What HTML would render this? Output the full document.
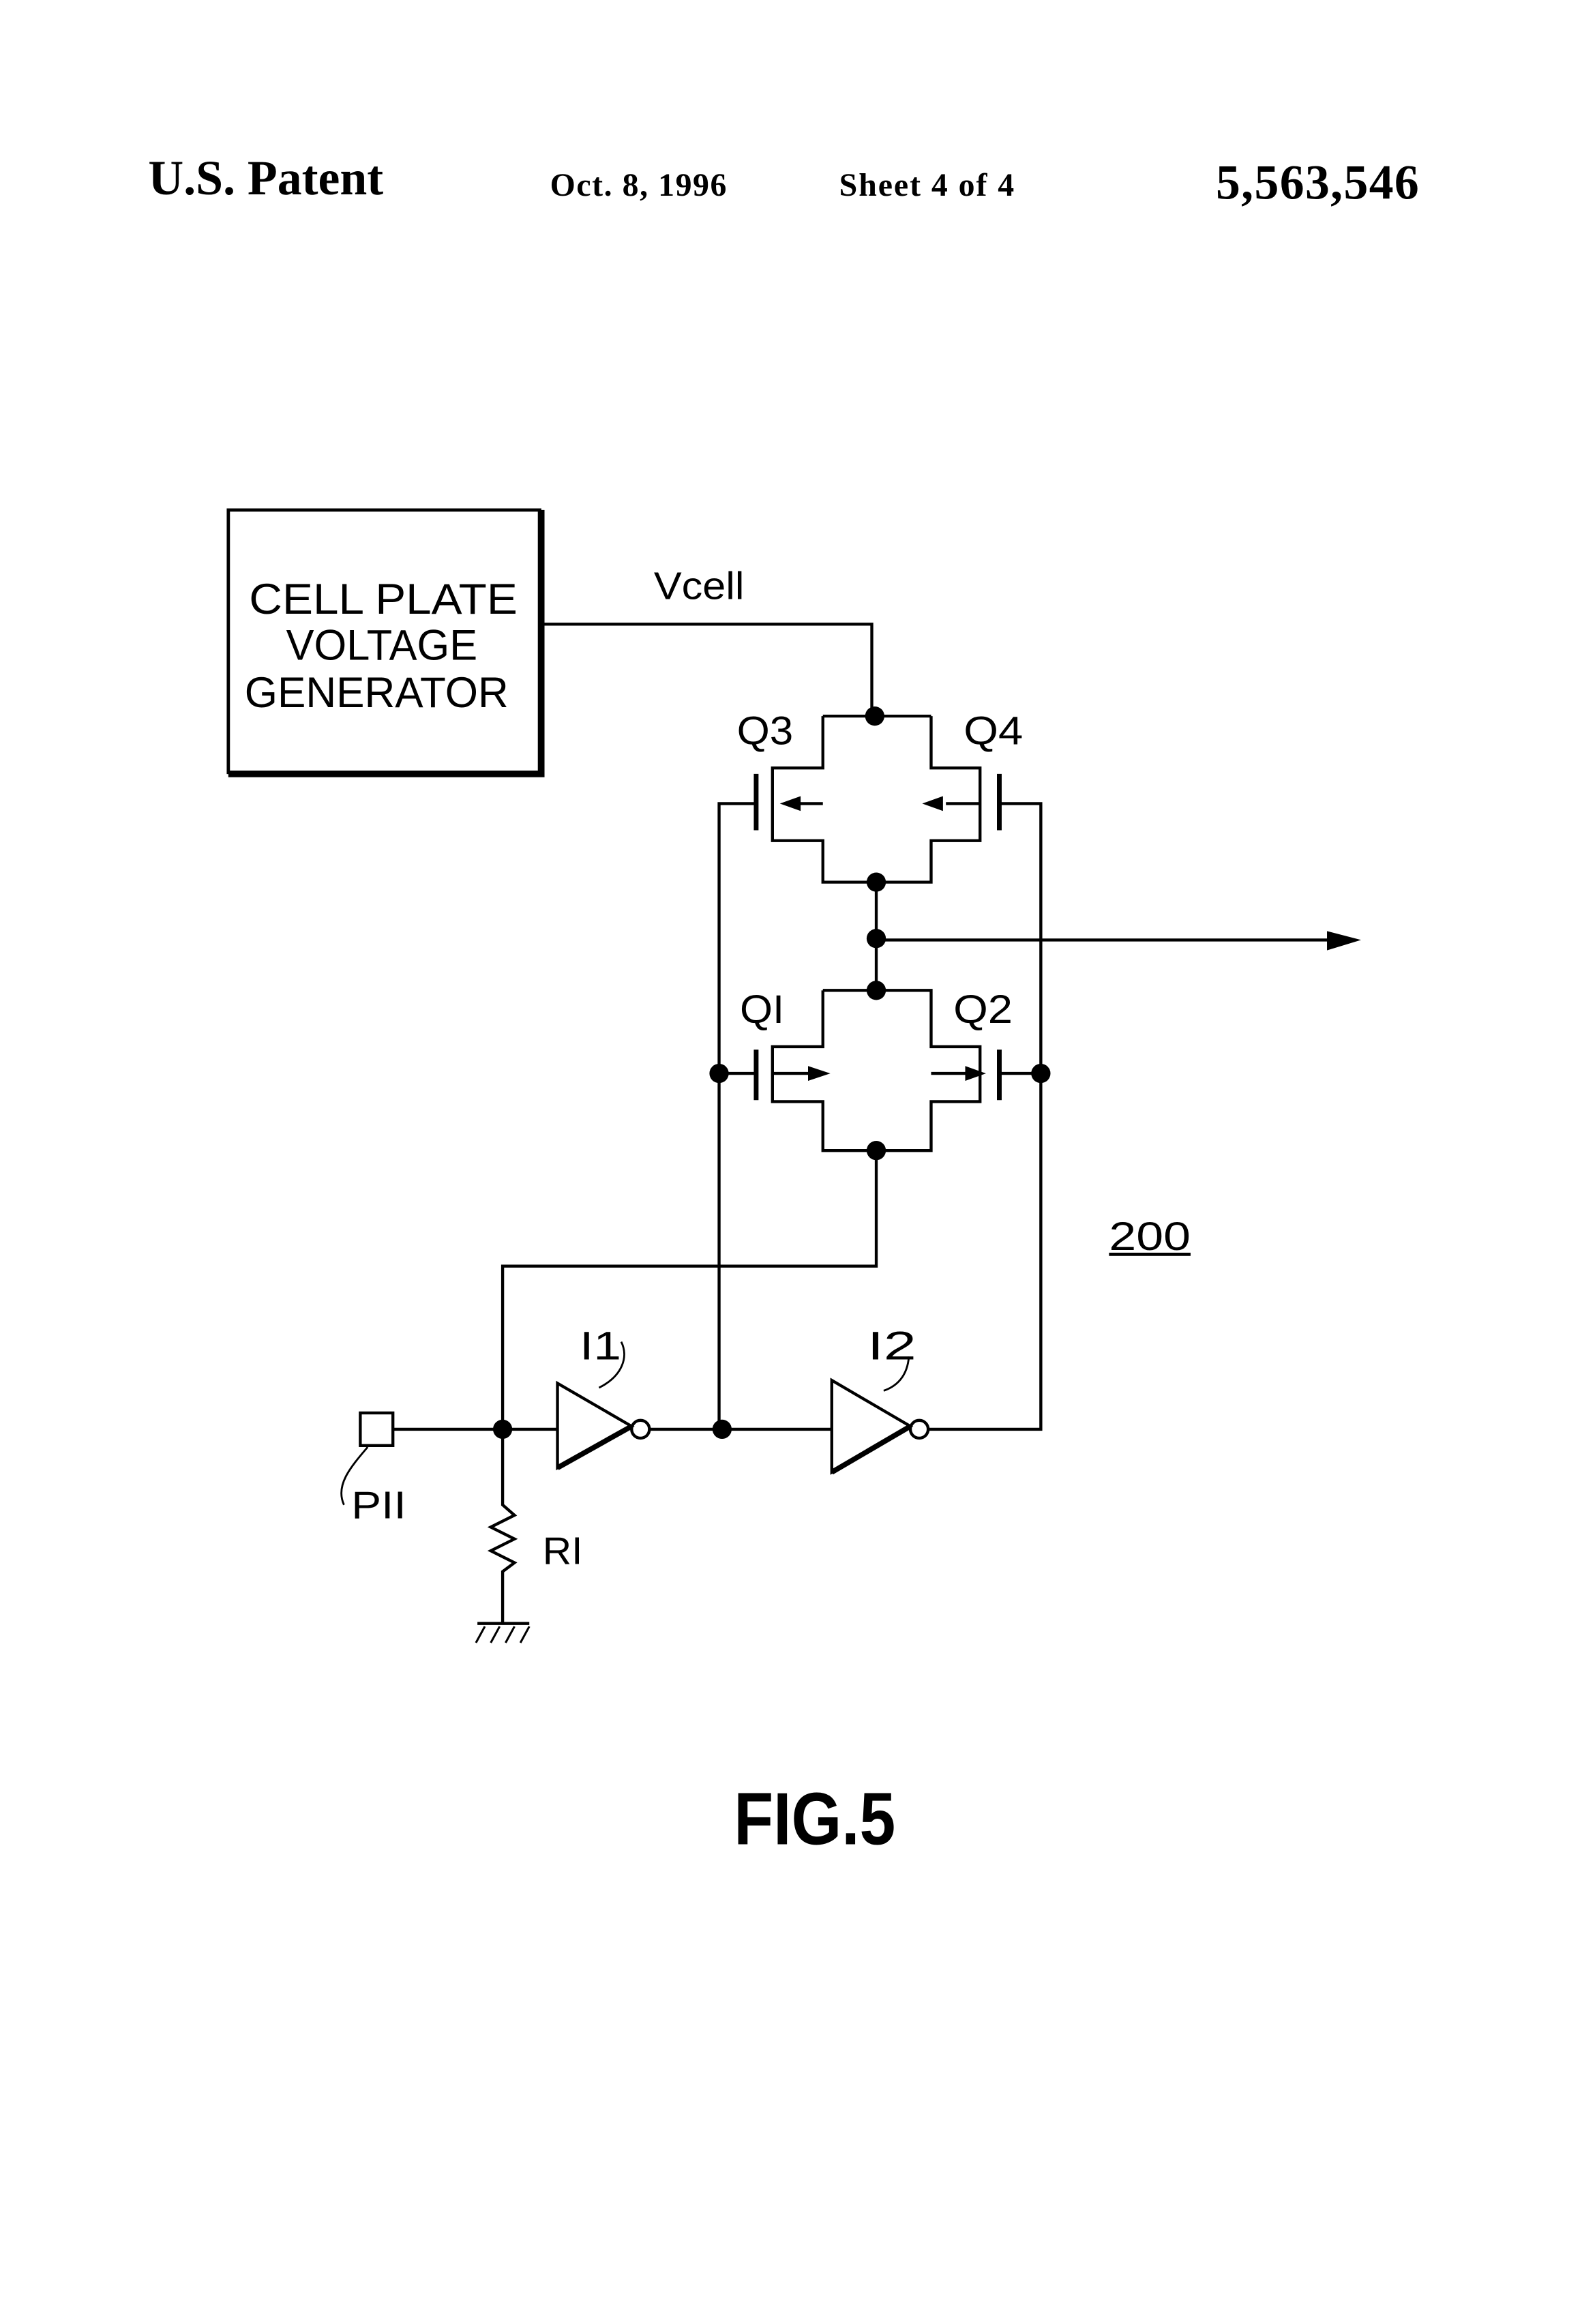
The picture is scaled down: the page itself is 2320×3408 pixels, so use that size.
<!DOCTYPE html>
<html><head><meta charset="utf-8"><style>
html,body{margin:0;padding:0;background:#fff;}
svg{display:block;}
</style></head><body>
<svg width="2320" height="3408" viewBox="0 0 1067 1567.5" preserveAspectRatio="none" xmlns="http://www.w3.org/2000/svg">
<rect width="1067" height="1567.5" fill="#fff"/>
<g font-family="Liberation Serif, serif" font-weight="bold" fill="#000">
<text x="100" y="131" font-size="33">U.S. Patent</text>
<text x="371" y="132" font-size="22" textLength="119">Oct. 8, 1996</text>
<text x="566" y="132" font-size="22" textLength="118">Sheet 4 of 4</text>
<text x="820" y="134" font-size="33" textLength="137">5,563,546</text>
</g>
<g stroke="#000" fill="none" stroke-width="2">
<rect x="154" y="344" width="210" height="177" stroke-width="2.2"/>
<path d="M365 344 V522 H154" stroke-width="4.5"/>
<path d="M366 421 H588 V483"/>
<path d="M555 483 H628"/>
<path d="M555 483 V518 H521 V567 H555 V595 H628 V567 H661 V518 H628 V483"/>
<path d="M510 522 V560" stroke-width="3.2"/>
<path d="M674 522 V560" stroke-width="3.2"/>
<path d="M510 542 H485 V964"/>
<path d="M674 542 H702 V964 H626"/>
<path d="M555 542 H535"/>
<path d="M661 542 H638"/>
<path d="M591 595 V668"/>
<path d="M591 634 H900"/>
<path d="M555 668 V706 H521 V743 H555 V776 H628 V743 H661 V706 H628 V668 H555"/>
<path d="M510 708 V742" stroke-width="3.2"/>
<path d="M674 708 V742" stroke-width="3.2"/>
<path d="M510 724 H485"/>
<path d="M674 724 H702"/>
<path d="M521 724 H550"/>
<path d="M628 724 H655"/>
<path d="M591 776 V854 H339 V1005"/>
<rect x="243" y="953" width="22" height="22"/>
<path d="M265 964 H376"/>
<path d="M376 933 L426 962 L376 990 Z"/>
<path d="M376 990 L426 962" stroke-width="3.5"/>
<circle cx="432" cy="964" r="6"/>
<path d="M438 964 H561"/>
<path d="M561 931 L614 962 L561 993 Z"/>
<path d="M561 993 L614 962" stroke-width="3.5"/>
<circle cx="620" cy="964" r="6"/>
<path d="M419 905 C424 915 420 928 404 936" stroke-width="1.3"/>
<path d="M613 915 C612 928 605 935 596 938" stroke-width="1.3"/>
<path d="M248 976 C236 990 226 1002 232 1015" stroke-width="1.3"/>
<path d="M339 1005 V1015 L347 1022 L331 1030 L347 1038 L331 1046 L347 1054 L339 1060 V1095"/>
<path d="M322 1095 H357"/>
<path d="M327 1097 L321 1108 M337 1097 L331 1108 M347 1097 L341 1108 M357 1097 L351 1108" stroke-width="1.4"/>
<path d="M748 846 H803" stroke-width="2.2"/>
</g>
<g fill="#000">
<path d="M895 628 L918 634 L895 641 Z"/>
<path d="M526 542 L540 537 L540 547 Z"/>
<path d="M622 542 L636 537 L636 547 Z"/>
<path d="M560 724 L545 719 L545 729 Z"/>
<path d="M665 724 L651 719 L651 729 Z"/>
<circle cx="590" cy="483" r="6.5"/>
<circle cx="591" cy="595" r="6.5"/>
<circle cx="591" cy="633" r="6.5"/>
<circle cx="591" cy="668" r="6.5"/>
<circle cx="485" cy="724" r="6.5"/>
<circle cx="702" cy="724" r="6.5"/>
<circle cx="591" cy="776" r="6.5"/>
<circle cx="339" cy="964" r="6.5"/>
<circle cx="487" cy="964" r="6.5"/>
</g>
<g font-family="Liberation Sans, sans-serif" fill="#000">
<text x="168" y="414" font-size="29" textLength="181" lengthAdjust="spacingAndGlyphs">CELL PLATE</text>
<text x="193" y="445" font-size="29" textLength="129" lengthAdjust="spacingAndGlyphs">VOLTAGE</text>
<text x="165" y="477" font-size="29" textLength="178" lengthAdjust="spacingAndGlyphs">GENERATOR</text>
<text x="441" y="404" font-size="26" textLength="61" lengthAdjust="spacingAndGlyphs">Vcell</text>
<text x="497" y="502" font-size="27" textLength="38" lengthAdjust="spacingAndGlyphs">Q3</text>
<text x="650" y="502" font-size="27" textLength="40" lengthAdjust="spacingAndGlyphs">Q4</text>
<text x="499" y="690" font-size="27" textLength="30" lengthAdjust="spacingAndGlyphs">QI</text>
<text x="643" y="690" font-size="27" textLength="40" lengthAdjust="spacingAndGlyphs">Q2</text>
<text x="748" y="843" font-size="27" textLength="55" lengthAdjust="spacingAndGlyphs">200</text>
<text x="391" y="917" font-size="27" textLength="28" lengthAdjust="spacingAndGlyphs">I1</text>
<text x="585" y="917" font-size="27" textLength="33" lengthAdjust="spacingAndGlyphs">I2</text>
<text x="237" y="1024" font-size="26" textLength="37" lengthAdjust="spacingAndGlyphs">PII</text>
<text x="366" y="1055" font-size="26" textLength="27" lengthAdjust="spacingAndGlyphs">RI</text>
<text x="495" y="1244" font-size="50" font-weight="bold" textLength="109" lengthAdjust="spacingAndGlyphs">FIG.5</text>
</g>
</svg>
</body></html>
